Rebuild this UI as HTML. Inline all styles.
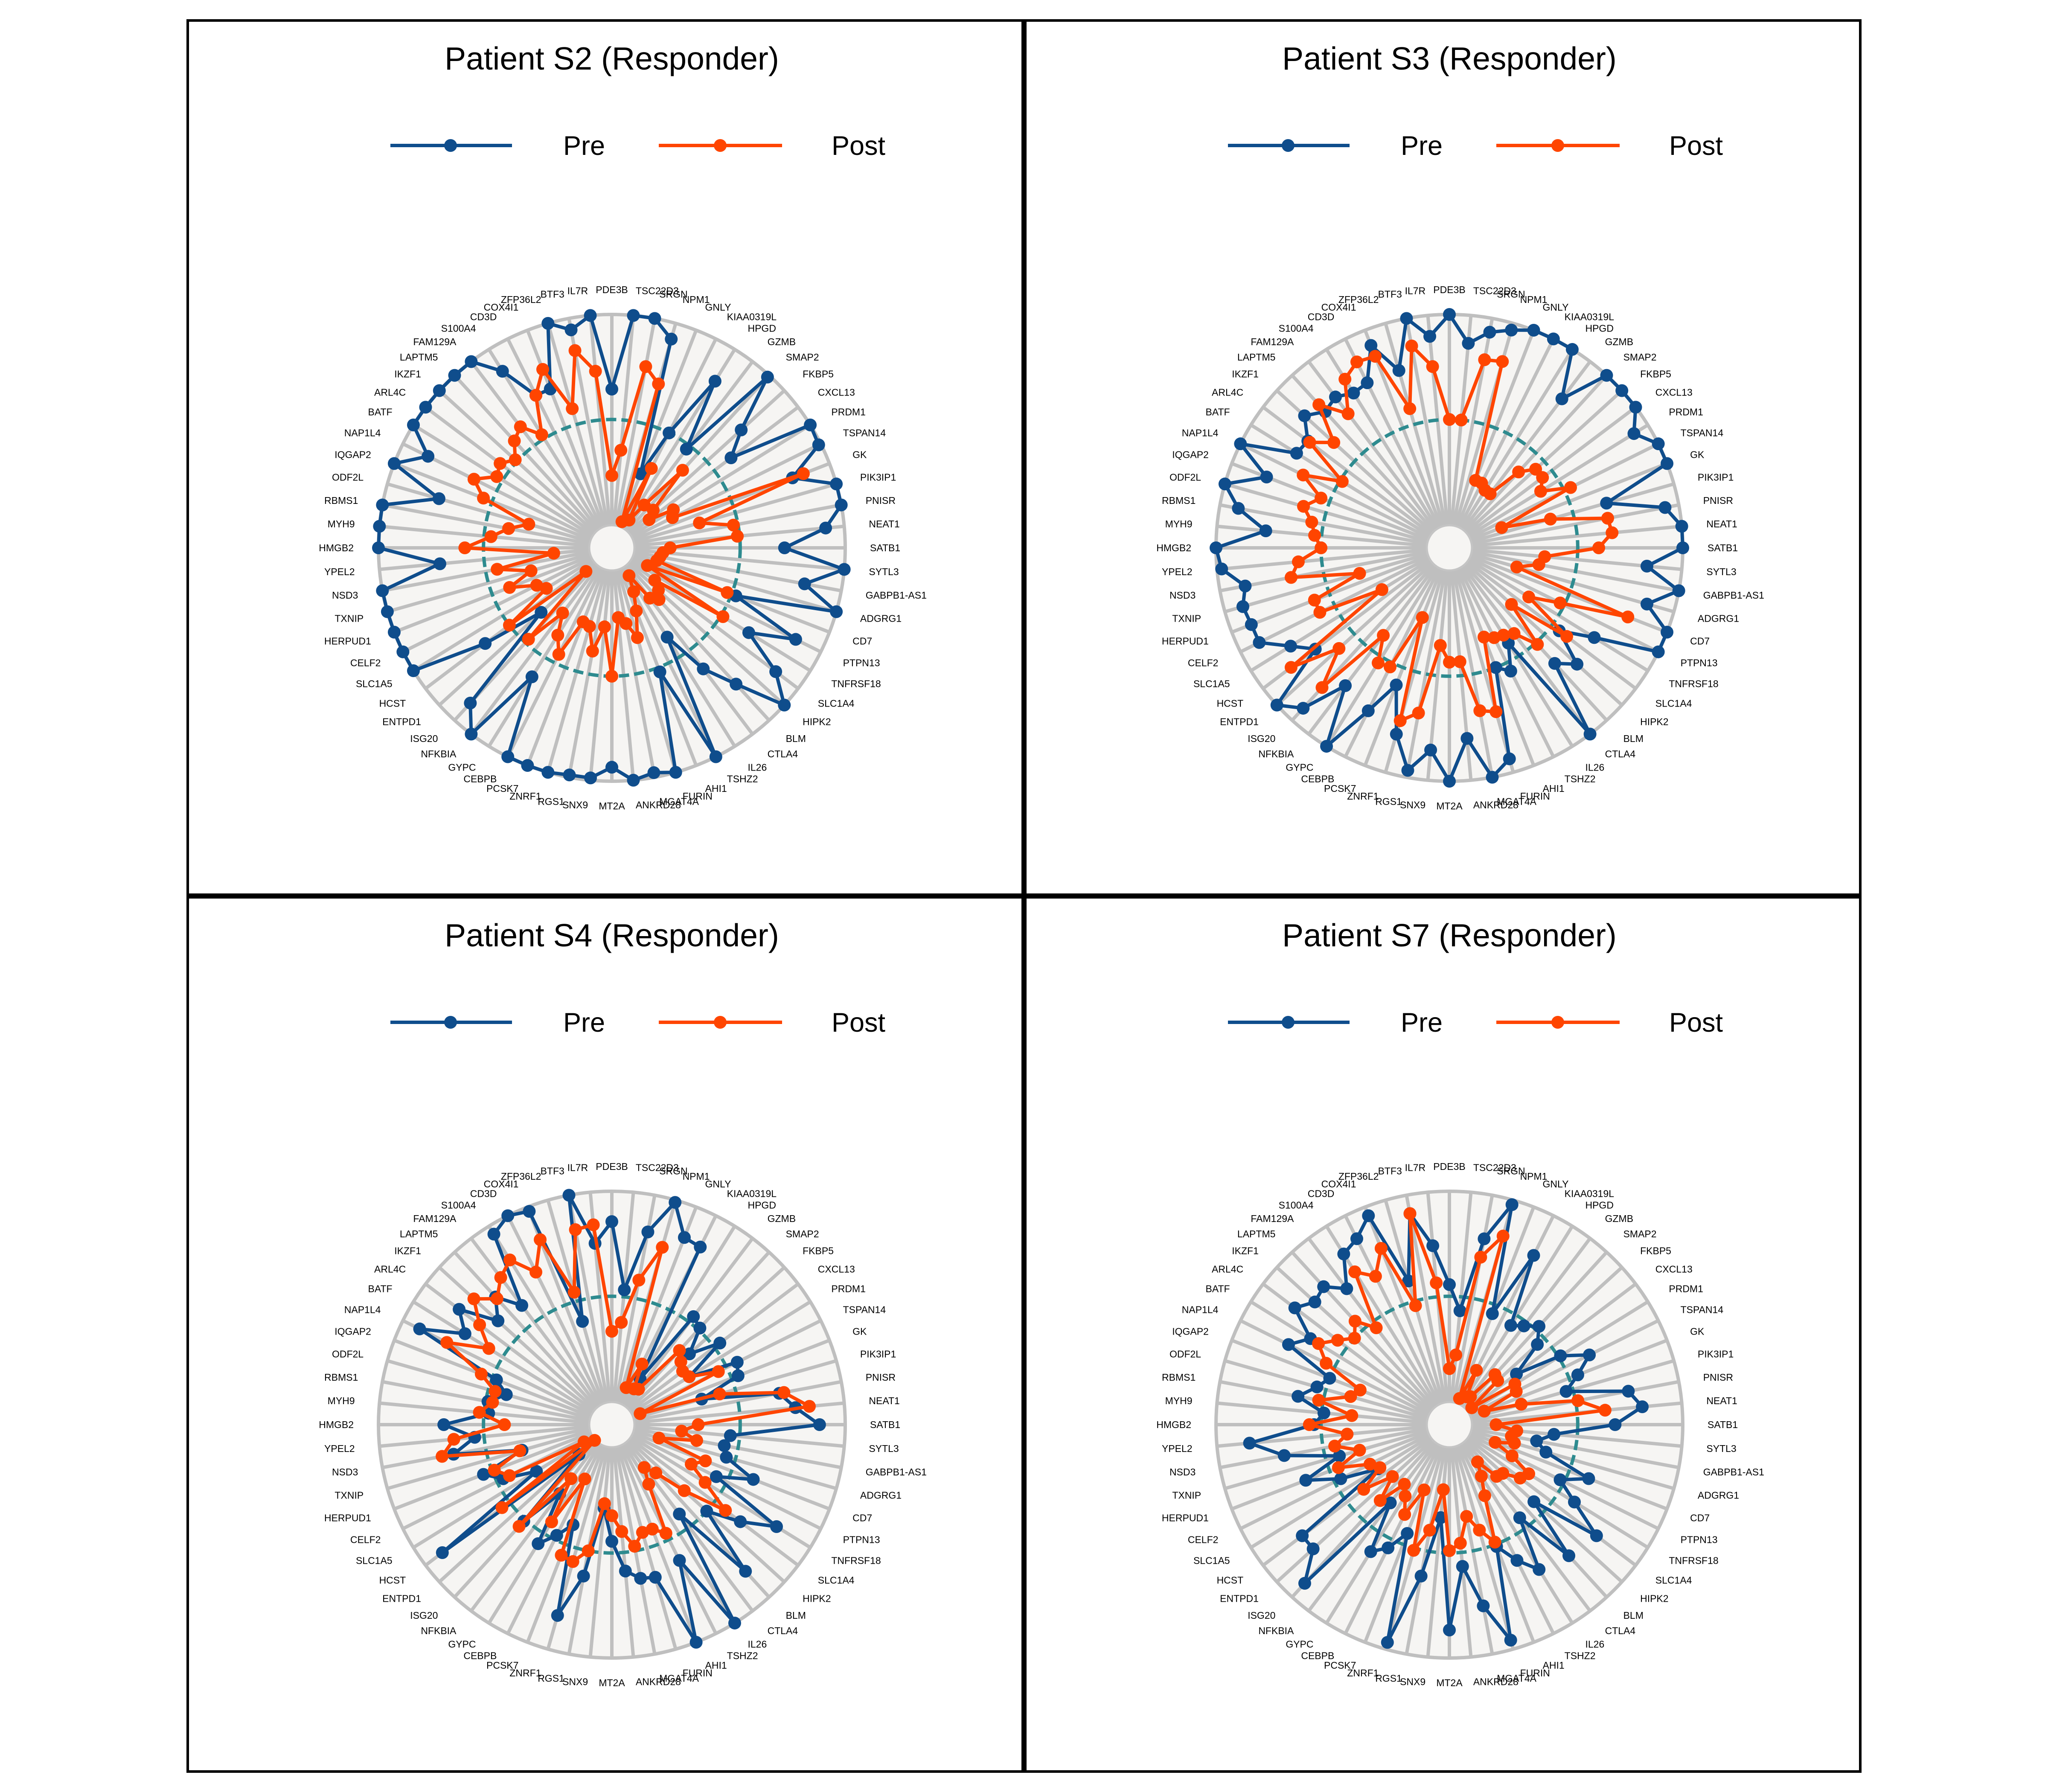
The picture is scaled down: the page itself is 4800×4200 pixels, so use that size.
<!DOCTYPE html>
<html><head><meta charset="utf-8"><style>
html,body{margin:0;padding:0;background:#fff;}
svg{display:block;font-family:"Liberation Sans",Arial,sans-serif;}
</style></head><body>
<svg id="fig" xmlns="http://www.w3.org/2000/svg" width="4800" height="4200" viewBox="0 0 4800 4200"></svg>
<script>
const genes = ["PDE3B","TSC22D3","SRGN","NPM1","GNLY","KIAA0319L","HPGD","GZMB","SMAP2","FKBP5","CXCL13","PRDM1","TSPAN14","GK","PIK3IP1","PNISR","NEAT1","SATB1","SYTL3","GABPB1-AS1","ADGRG1","CD7","PTPN13","TNFRSF18","SLC1A4","HIPK2","BLM","CTLA4","IL26","TSHZ2","AHI1","FURIN","MGAT4A","ANKRD28","MT2A","SNX9","RGS1","ZNRF1","PCSK7","CEBPB","GYPC","NFKBIA","ISG20","ENTPD1","HCST","SLC1A5","CELF2","HERPUD1","TXNIP","NSD3","YPEL2","HMGB2","MYH9","RBMS1","ODF2L","IQGAP2","NAP1L4","BATF","ARL4C","IKZF1","LAPTM5","FAM129A","S100A4","CD3D","COX4I1","ZFP36L2","BTF3","IL7R"];
const panelTitles = ["Patient S2 (Responder)","Patient S3 (Responder)","Patient S4 (Responder)","Patient S7 (Responder)"];
const seriesNames = ["Pre","Post"];
const s2Pre = [0.68,1.0,1.0,0.93,0.34,0.55,0.84,0.53,0.99,0.75,0.64,1.0,0.99,0.83,1.0,1.0,0.92,0.74,1.0,0.84,1.0,0.57,0.88,0.69,0.88,1.0,0.79,0.65,0.45,1.0,0.57,1.0,0.98,1.0,0.94,0.99,0.99,1.0,1.0,1.0,0.65,1.0,0.90,0.41,0.68,1.0,1.0,1.0,1.0,1.0,0.74,1.0,1.0,1.0,0.77,1.0,0.88,1.0,1.0,1.0,1.0,1.0,0.89,0.73,0.73,1.0,0.95,1.0];
const s2Post = [0.31,0.42,0.79,0.73,0.12,0.38,0.14,0.23,0.45,0.24,0.20,0.31,0.29,0.88,0.39,0.53,0.54,0.25,0.22,0.21,0.20,0.53,0.17,0.56,0.23,0.27,0.30,0.27,0.14,0.21,0.29,0.40,0.33,0.30,0.55,0.34,0.45,0.35,0.34,0.51,0.44,0.35,0.53,0.15,0.55,0.33,0.36,0.47,0.36,0.50,0.25,0.63,0.52,0.45,0.37,0.59,0.66,0.58,0.60,0.56,0.62,0.65,0.57,0.73,0.82,0.62,0.86,0.76];
const s3Pre = [1.0,0.88,0.94,0.97,1.0,1.0,1.0,0.80,1.0,1.0,1.0,0.93,1.0,1.0,0.70,0.94,1.0,1.0,0.85,1.0,0.88,1.0,1.0,0.73,0.59,0.74,0.67,1.0,0.48,0.59,0.55,0.94,1.0,0.82,1.0,0.87,0.97,0.83,0.63,0.78,1.0,0.74,0.93,1.0,0.72,0.80,0.91,0.91,0.92,0.89,0.98,1.0,0.79,0.92,1.0,0.84,1.0,0.77,0.76,0.84,0.79,0.81,0.78,0.79,0.93,0.79,1.0,0.91];
const s3Post = [0.55,0.55,0.82,0.83,0.31,0.31,0.29,0.29,0.44,0.50,0.50,0.46,0.58,0.24,0.45,0.69,0.70,0.64,0.41,0.39,0.30,0.82,0.53,0.40,0.63,0.36,0.56,0.46,0.44,0.43,0.41,0.73,0.71,0.49,0.49,0.42,0.72,0.77,0.32,0.57,0.58,0.47,0.81,0.64,0.85,0.34,0.62,0.62,0.40,0.69,0.65,0.55,0.58,0.60,0.65,0.59,0.70,0.54,0.75,0.67,0.83,0.72,0.85,0.89,0.88,0.62,0.88,0.78];
const s4Pre = [0.87,0.58,0.84,0.99,0.86,0.85,0.23,0.58,0.56,0.45,0.58,0.39,0.60,0.58,0.40,0.73,0.79,0.89,0.51,0.49,0.51,0.65,0.50,0.83,0.69,0.55,0.85,0.48,1.0,0.65,1.0,0.68,0.67,0.63,0.50,0.36,0.66,0.85,0.46,0.53,0.60,0.37,0.56,0.19,0.91,0.38,0.52,0.59,0.40,0.69,0.59,0.72,0.53,0.54,0.47,0.53,0.92,0.74,0.82,0.66,0.74,0.64,0.96,1.0,0.98,0.46,1.0,0.78];
const s4Post = [0.40,0.44,0.63,0.79,0.17,0.29,0.18,0.19,0.43,0.40,0.38,0.39,0.51,0.13,0.48,0.75,0.85,0.37,0.30,0.37,0.21,0.43,0.38,0.47,0.61,0.42,0.28,0.23,0.30,0.52,0.48,0.48,0.53,0.46,0.39,0.34,0.55,0.61,0.60,0.26,0.49,0.29,0.59,0.10,0.59,0.14,0.49,0.54,0.41,0.74,0.68,0.46,0.57,0.52,0.52,0.60,0.79,0.62,0.71,0.80,0.73,0.79,0.83,0.73,0.85,0.59,0.85,0.86];
const s7Pre = [0.60,0.49,0.81,0.98,0.51,0.81,0.50,0.53,0.57,0.51,0.36,0.56,0.67,0.59,0.52,0.78,0.83,0.71,0.45,0.38,0.43,0.64,0.53,0.63,0.79,0.49,0.76,0.50,0.73,0.65,0.56,0.96,0.79,0.61,0.88,0.40,0.66,0.97,0.50,0.59,0.64,0.42,0.92,0.79,0.79,0.36,0.52,0.66,0.49,0.72,0.86,0.58,0.54,0.66,0.59,0.55,0.77,0.70,0.83,0.78,0.80,0.73,0.86,0.89,0.96,0.64,0.92,0.77];
const s7Post = [0.24,0.30,0.73,0.84,0.12,0.26,0.14,0.15,0.29,0.28,0.12,0.33,0.32,0.16,0.32,0.56,0.67,0.20,0.29,0.27,0.29,0.21,0.30,0.40,0.38,0.31,0.30,0.20,0.26,0.34,0.54,0.47,0.40,0.51,0.54,0.28,0.46,0.56,0.30,0.43,0.36,0.32,0.44,0.33,0.46,0.35,0.38,0.51,0.40,0.50,0.44,0.60,0.42,0.57,0.44,0.41,0.59,0.66,0.60,0.55,0.60,0.52,0.77,0.71,0.81,0.53,0.92,0.61];
const refLevel = 0.55;

const panelData = [[s2Pre,s2Post],[s3Pre,s3Post],[s4Pre,s4Post],[s7Pre,s7Post]];
const NS = "http://www.w3.org/2000/svg";
const svg = document.getElementById("fig");
const R = 547, HUB = 53, LABR = 605;
const colors = ["#0f4d8c","#ff4500"];
function mk(tag, attrs, parent){
  const e = document.createElementNS(NS, tag);
  for (const k in attrs) e.setAttribute(k, attrs[k]);
  (parent||svg).appendChild(e);
  return e;
}
function angleOf(i){ return i * 2 * Math.PI / genes.length; }
function rScale(v){ return v * R; }
function px(cx, i, r){ return cx + r * Math.sin(angleOf(i)); }
function py(cy, i, r){ return cy - r * Math.cos(angleOf(i)); }

const panels = [
  {x:440, y:48, cx:1434, cy:1284},
  {x:2403, y:48, cx:3397, cy:1284},
  {x:440, y:2103, cx:1434, cy:3339},
  {x:2403, y:2103, cx:3397, cy:3339}
];

panels.forEach((p, pi) => {
  const g = mk("g", {});
  
  
  const frame = mk("rect", {x:p.x, y:p.y, width:1957, height:2049, fill:"#fff", stroke:"#000", "stroke-width":6}, g);
  
  
  const t = mk("text", {x:p.cx, y:p.y+115, "text-anchor":"middle", "font-size":75, fill:"#000"}, g);
  t.textContent = panelTitles[pi];
  
  

  const ly = p.y + 293;
  const leg = [{x1:-519,x2:-234,m:-378,tx:-114},{x1:110,x2:399,m:254,tx:515}];
  leg.forEach((L, si) => {
    const lg = mk("g", {}, g);
    
    
    mk("line", {x1:p.cx+L.x1, y1:ly, x2:p.cx+L.x2, y2:ly, stroke:colors[si], "stroke-width":8}, lg);
    mk("circle", {cx:p.cx+L.m, cy:ly, r:15, fill:colors[si]}, lg);
    const lt = mk("text", {x:p.cx+L.tx, y:ly+22, "font-size":63, fill:"#000"}, lg);
    lt.textContent = seriesNames[si];
  });

  const bg = mk("circle", {cx:p.cx, cy:p.cy, r:R, fill:"#f6f5f3"}, g);
  
  
  genes.forEach((gn, i) => {
    const s = mk("line", {x1:px(p.cx,i,HUB), y1:py(p.cy,i,HUB), x2:px(p.cx,i,R), y2:py(p.cy,i,R), stroke:"#bfbfbf", "stroke-width":8}, g);
    
    
  });
  mk("circle", {cx:p.cx, cy:p.cy, r:R, fill:"none", stroke:"#bfbfbf", "stroke-width":8}, g);
  const hub = mk("circle", {cx:p.cx, cy:p.cy, r:HUB, fill:"#f6f5f3", stroke:"#c4c4c4", "stroke-width":5}, g);
  
  
  const ref = mk("circle", {cx:p.cx, cy:p.cy, r:rScale(refLevel), fill:"none", stroke:"#2e8b8f", "stroke-width":8, "stroke-dasharray":"24 12"}, g);
  
  

  genes.forEach((gn, i) => {
    const s = Math.sin(angleOf(i));
    const anchor = s > 0.05 ? "start" : (s < -0.05 ? "end" : "middle");
    const lab = mk("text", {x:px(p.cx,i,LABR), y:py(p.cy,i,LABR)+8, "text-anchor":anchor, "font-size":23, fill:"#000"}, g);
    lab.textContent = gn;
    
    
  });

  panelData[pi].forEach((vals, si) => {
    const sg = mk("g", {}, g);
    
    
    const pts = vals.map((v, i) => px(p.cx,i,rScale(v)).toFixed(1) + "," + py(p.cy,i,rScale(v)).toFixed(1)).join(" ");
    const poly = mk("polygon", {points:pts, fill:"none", stroke:colors[si], "stroke-width":8, "stroke-linejoin":"round"}, sg);
    
    
    vals.forEach((v, i) => {
      const c = mk("circle", {cx:px(p.cx,i,rScale(v)), cy:py(p.cy,i,rScale(v)), r:15, fill:colors[si]}, sg);
      
      
    });
  });
});
</script>
</body></html>
